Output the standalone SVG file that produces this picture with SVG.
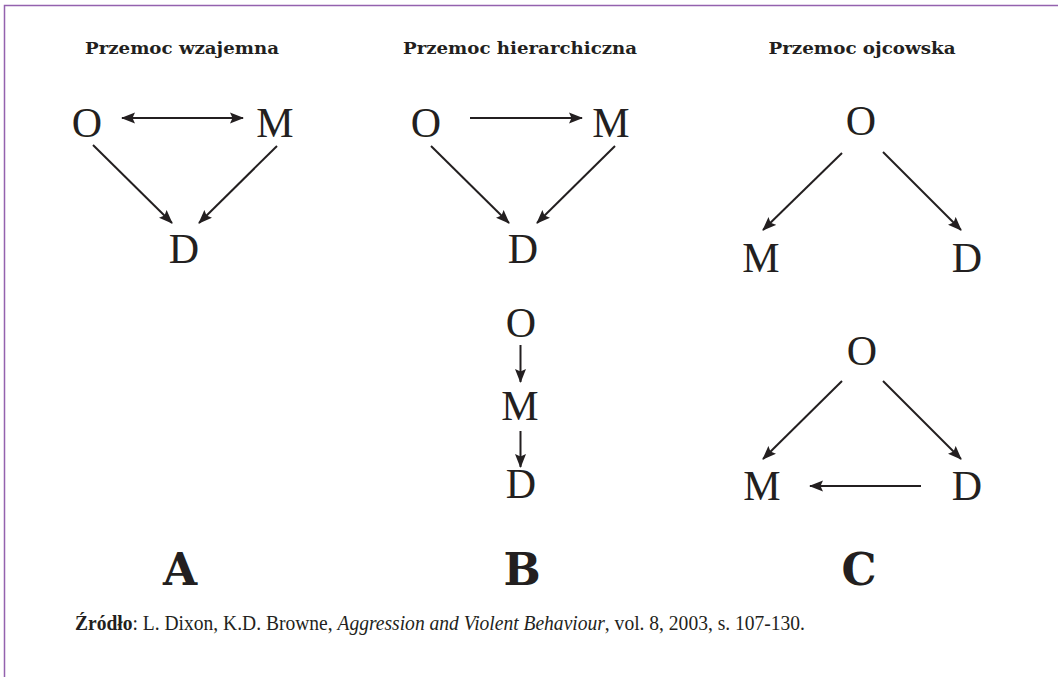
<svg xmlns="http://www.w3.org/2000/svg" width="1058" height="677" viewBox="0 0 1058 677">
<style>
.t{font-family:"DejaVu Serif","Liberation Serif",serif;font-weight:bold;font-size:17px;fill:#231f20;text-anchor:middle}
.n{font-family:"Liberation Serif",serif;font-size:42px;fill:#231f20;text-anchor:middle}
.L{font-family:"DejaVu Serif","Liberation Serif",serif;font-weight:bold;font-size:44px;fill:#231f20;text-anchor:middle}
.s{font-family:"Liberation Serif",serif;font-size:20px;fill:#231f20}
.c line{stroke:#231f20;stroke-width:2;marker-end:url(#ah)}
</style>
<defs>
<marker id="ah" markerUnits="userSpaceOnUse" markerWidth="16" markerHeight="12" refX="13" refY="6" orient="auto">
<path d="M0,0.5 L14,6 L0,11.5 L2.5,6 z" fill="#231f20"/>
</marker>
<marker id="as" markerUnits="userSpaceOnUse" markerWidth="16" markerHeight="12" refX="1" refY="6" orient="auto">
<path d="M14,0.5 L0,6 L14,11.5 L11.5,6 z" fill="#231f20"/>
</marker>
</defs>
<rect width="1058" height="677" fill="#fff"/>
<path d="M4.5,677 V5.5 H1058" fill="none" stroke="#9462ae" stroke-width="1.5"/>

<g id="titles">
<text class="t" x="182" y="54" textLength="194" lengthAdjust="spacingAndGlyphs">Przemoc wzajemna</text>
<text class="t" x="520" y="54" textLength="234" lengthAdjust="spacingAndGlyphs">Przemoc hierarchiczna</text>
<text class="t" x="862" y="54" textLength="187" lengthAdjust="spacingAndGlyphs">Przemoc ojcowska</text>
</g>

<g id="A-O"><text class="n" x="87" y="137">O</text></g>
<g id="A-M"><text class="n" x="275" y="137">M</text></g>
<g id="A-D"><text class="n" x="184" y="263">D</text></g>

<g id="B-O"><text class="n" x="426" y="137">O</text></g>
<g id="B-M"><text class="n" x="611" y="137">M</text></g>
<g id="B-D"><text class="n" x="523" y="263">D</text></g>

<g id="B2-O"><text class="n" x="521" y="337">O</text></g>
<g id="B2-M"><text class="n" x="520" y="420">M</text></g>
<g id="B2-D"><text class="n" x="521" y="498">D</text></g>

<g id="C-O"><text class="n" x="861" y="135">O</text></g>
<g id="C-M"><text class="n" x="761" y="272">M</text></g>
<g id="C-D"><text class="n" x="967" y="272">D</text></g>

<g id="C2-O"><text class="n" x="862" y="365">O</text></g>
<g id="C2-M"><text class="n" x="762" y="500">M</text></g>
<g id="C2-D"><text class="n" x="967" y="500">D</text></g>

<g id="labels">
<text class="L" x="180" y="585">A</text>
<text class="L" x="522" y="585">B</text>
<text class="L" x="859" y="585">C</text>
</g>

<g id="source">
<text class="s" x="75" y="630" textLength="730" lengthAdjust="spacingAndGlyphs"><tspan font-weight="bold">Źródło</tspan>: L. Dixon, K.D. Browne, <tspan font-style="italic">Aggression and Violent Behaviour</tspan>, vol. 8, 2003, s. 107-130.</text>
</g>

<g id="connectors" class="c">
<line x1="122" y1="118" x2="243" y2="118" style="marker-start:url(#as)"/>
<line x1="93" y1="145" x2="172" y2="223"/>
<line x1="277" y1="146" x2="199" y2="223"/>

<line x1="470" y1="118" x2="582" y2="118"/>
<line x1="431" y1="146" x2="509" y2="223"/>
<line x1="615" y1="146" x2="537" y2="223"/>

<line x1="520.5" y1="345" x2="520.5" y2="382"/>
<line x1="520.5" y1="431" x2="520.5" y2="467"/>

<line x1="842" y1="153" x2="763" y2="230"/>
<line x1="883" y1="152" x2="961" y2="230"/>

<line x1="842" y1="381" x2="763" y2="459"/>
<line x1="883" y1="381" x2="961" y2="459"/>
<line x1="921" y1="486" x2="810" y2="486"/>
</g>
</svg>
